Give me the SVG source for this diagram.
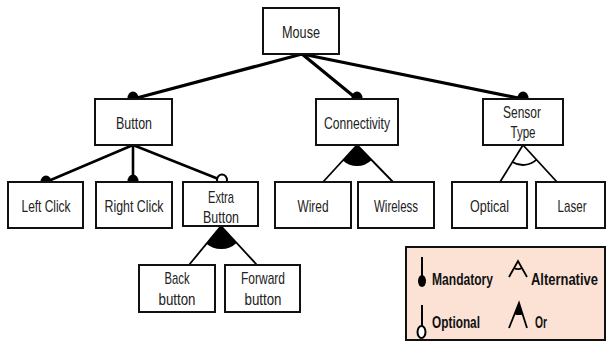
<svg xmlns="http://www.w3.org/2000/svg" width="608" height="345" viewBox="0 0 608 345">
<style>
.box{fill:#fff;stroke:#111;stroke-width:2}
.t{font-family:"Liberation Sans",Arial,sans-serif;font-size:17px;fill:#222;text-anchor:middle}
.lt{font-family:"Liberation Sans",Arial,sans-serif;font-size:16px;font-weight:bold;fill:#111}
.l1{stroke:#000;stroke-width:3.2;fill:none;stroke-linecap:round}
.l2{stroke:#000;stroke-width:2.6;fill:none;stroke-linecap:round}
.l3{stroke:#000;stroke-width:1.8;fill:none}
.dot{fill:#000}
.odot{fill:#fff;stroke:#000;stroke-width:2}
</style>
<rect width="608" height="345" fill="#fff"/>
<g id="connectors">
<line class="l1" x1="302" y1="54" x2="133" y2="99"/>
<line class="l1" x1="302" y1="54" x2="357" y2="99"/>
<line class="l1" x1="302" y1="54" x2="523" y2="99"/>
<line class="l2" x1="133" y1="145" x2="46" y2="182"/>
<line class="l2" x1="133" y1="145" x2="133" y2="182"/>
<line class="l2" x1="133" y1="145" x2="221" y2="180"/>
<line class="l3" x1="357" y1="145" x2="323" y2="182"/>
<line class="l3" x1="357" y1="145" x2="393" y2="182"/>
<path class="dot" d="M357,145 L342.8,160.5 A21,21 0 0,0 371.7,160.1 Z"/>
<line class="l3" x1="523" y1="145" x2="500" y2="182"/>
<line class="l3" x1="523" y1="145" x2="557" y2="182"/>
<path class="l3" d="M512.4,162 A20,20 0 0,0 536.5,159.7"/>
<line class="l3" x1="221" y1="226" x2="189" y2="265"/>
<line class="l3" x1="221" y1="226" x2="257" y2="265"/>
<path class="dot" d="M221,226 L206.4,243.8 A23,23 0 0,0 236.6,242.9 Z"/>
<ellipse class="dot" cx="133" cy="98" rx="5.5" ry="6.5"/>
<ellipse class="dot" cx="357" cy="98" rx="5.5" ry="6.5"/>
<ellipse class="dot" cx="523" cy="98" rx="5.5" ry="6.5"/>
<ellipse class="dot" cx="46" cy="182" rx="5.5" ry="6.5"/>
<ellipse class="dot" cx="133" cy="181" rx="5.5" ry="6.5"/>
<ellipse class="odot" cx="222" cy="180" rx="5" ry="5.5"/>
</g>
<g id="mouse"><rect class="box" x="263" y="8" width="76" height="46"/><text class="t" x="301" y="38" textLength="38" lengthAdjust="spacingAndGlyphs">Mouse</text></g>
<g id="button"><rect class="box" x="95" y="99" width="77" height="46"/><text class="t" x="134" y="129" textLength="36" lengthAdjust="spacingAndGlyphs">Button</text></g>
<g id="connectivity"><rect class="box" x="316" y="99" width="82" height="46"/><text class="t" x="357" y="129" textLength="66" lengthAdjust="spacingAndGlyphs">Connectivity</text></g>
<g id="sensor-type"><rect class="box" x="483" y="99" width="80" height="46"/><text class="t" x="522" y="118" textLength="38" lengthAdjust="spacingAndGlyphs">Sensor</text><text class="t" x="523" y="138" textLength="25" lengthAdjust="spacingAndGlyphs">Type</text></g>
<g id="left-click"><rect class="box" x="8" y="182" width="75" height="46"/><text class="t" x="46" y="212" textLength="49" lengthAdjust="spacingAndGlyphs">Left Click</text></g>
<g id="right-click"><rect class="box" x="96" y="182" width="76" height="46"/><text class="t" x="134" y="212" textLength="59" lengthAdjust="spacingAndGlyphs">Right Click</text></g>
<g id="extra-button"><rect class="box" x="183" y="182" width="75" height="44"/><text class="t" x="221" y="203" textLength="26" lengthAdjust="spacingAndGlyphs">Extra</text><text class="t" x="221" y="223" textLength="36" lengthAdjust="spacingAndGlyphs">Button</text></g>
<g id="wired"><rect class="box" x="275" y="182" width="76" height="46"/><text class="t" x="313" y="212" textLength="31" lengthAdjust="spacingAndGlyphs">Wired</text></g>
<g id="wireless"><rect class="box" x="358" y="182" width="76" height="46"/><text class="t" x="396" y="212" textLength="44" lengthAdjust="spacingAndGlyphs">Wireless</text></g>
<g id="optical"><rect class="box" x="452" y="182" width="75" height="46"/><text class="t" x="489.5" y="212" textLength="39" lengthAdjust="spacingAndGlyphs">Optical</text></g>
<g id="laser"><rect class="box" x="536" y="182" width="69" height="46"/><text class="t" x="572" y="212" textLength="29" lengthAdjust="spacingAndGlyphs">Laser</text></g>
<g id="back-button"><rect class="box" x="139" y="265" width="76" height="47"/><text class="t" x="177" y="284" textLength="25" lengthAdjust="spacingAndGlyphs">Back</text><text class="t" x="177" y="305" textLength="37" lengthAdjust="spacingAndGlyphs">button</text></g>
<g id="forward-button"><rect class="box" x="225" y="265" width="75" height="47"/><text class="t" x="263" y="284" textLength="44" lengthAdjust="spacingAndGlyphs">Forward</text><text class="t" x="263" y="305" textLength="37" lengthAdjust="spacingAndGlyphs">button</text></g>
<g id="legend">
<rect x="406" y="247" width="199" height="93" fill="#fbe2d5" stroke="#111" stroke-width="2"/>
<line x1="422" y1="257" x2="422" y2="277" stroke="#000" stroke-width="2"/>
<ellipse cx="422" cy="281" rx="4" ry="6" fill="#000"/>
<text class="lt" x="432" y="285" textLength="61" lengthAdjust="spacingAndGlyphs">Mandatory</text>
<line x1="422" y1="305" x2="422" y2="326" stroke="#000" stroke-width="2"/>
<ellipse cx="421.5" cy="332" rx="4" ry="6" fill="#fff" stroke="#000" stroke-width="2"/>
<text class="lt" x="432" y="328" textLength="48" lengthAdjust="spacingAndGlyphs">Optional</text>
<path d="M509,277 L518,261 L527,277" fill="none" stroke="#000" stroke-width="1.8"/>
<path d="M514.1,268 A8,8 0 0,0 521.9,268" fill="none" stroke="#000" stroke-width="1.6"/>
<text class="lt" transform="translate(531,285) scale(0.81,1)" x="0" y="0">Alternative</text>
<path d="M509,328 L519,303 L527,328" fill="none" stroke="#000" stroke-width="1.8"/>
<path d="M519,303 L514.5,314.2 A12,12 0 0,0 522.7,314.4 Z" fill="#000"/>
<text class="lt" x="535" y="328" textLength="12" lengthAdjust="spacingAndGlyphs">Or</text>
</g>
</svg>
